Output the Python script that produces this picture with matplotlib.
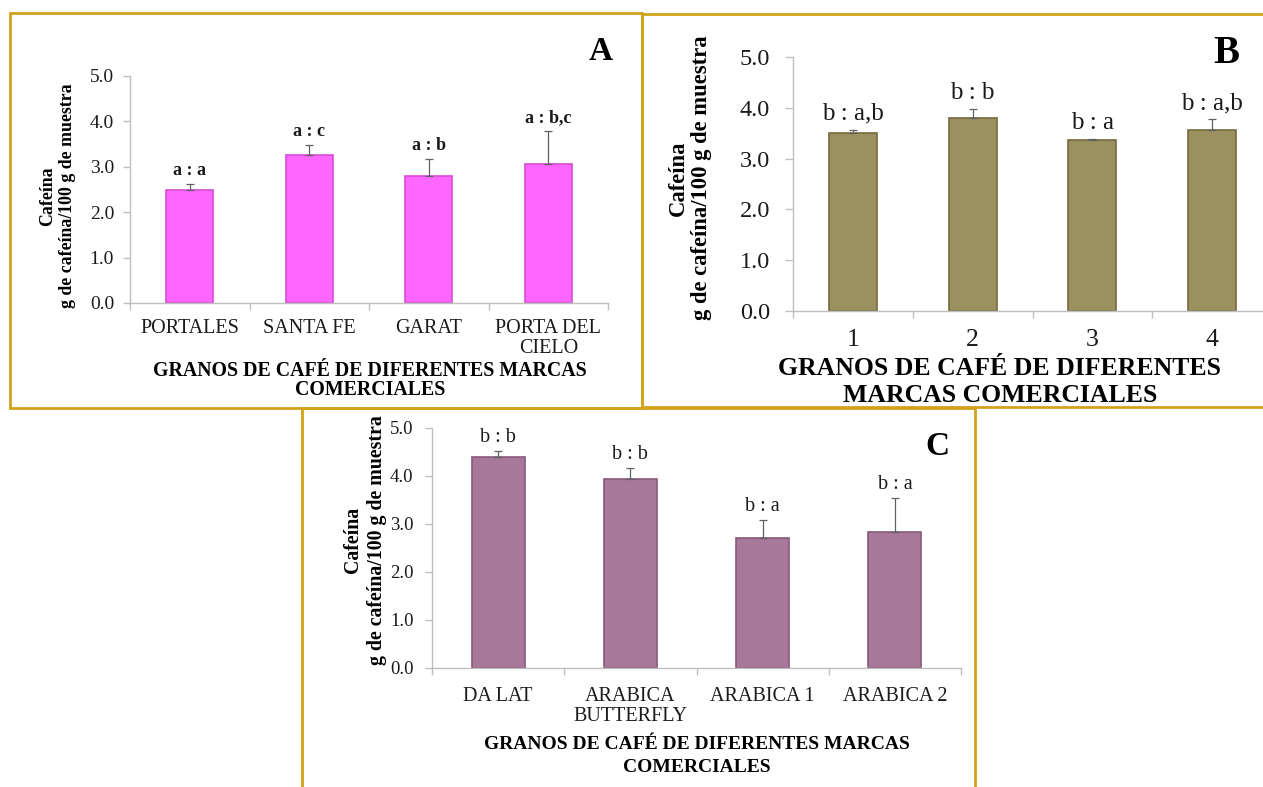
import numpy as np
import matplotlib
matplotlib.use("Agg")
import matplotlib.pyplot as plt
from matplotlib.patches import Rectangle
from matplotlib.ticker import FormatStrFormatter

plt.rcParams['font.family'] = ['Liberation Serif', 'DejaVu Serif']

# ---- data -------------------------------------------------------------
brands_a = ['PORTALES', 'SANTA FE', 'GARAT', 'PORTA DEL\nCIELO']
caffeine_a = [2.48, 3.26, 2.80, 3.07]
sd_a = [0.14, 0.22, 0.38, 0.72]
letters_a = ['a : a', 'a : c', 'a : b', 'a : b,c']

brands_b = ['1', '2', '3', '4']
caffeine_b = [3.51, 3.80, 3.36, 3.57]
sd_b = [0.06, 0.17, 0.03, 0.21]
letters_b = ['b : a,b', 'b : b', 'b : a', 'b : a,b']

brands_c = ['DA LAT', 'ARABICA\nBUTTERFLY', 'ARABICA 1', 'ARABICA 2']
caffeine_c = [4.40, 3.93, 2.70, 2.83]
sd_c = [0.13, 0.23, 0.39, 0.71]
letters_c = ['b : b', 'b : b', 'b : a', 'b : a']

y_ticks = [0, 1, 2, 3, 4, 5]
ylabel_1 = 'Cafeína'
ylabel_2 = 'g de cafeína/100 g de muestra'

# ---- layout helpers (pixel based) ------------------------------------
W, H = 1263, 787
fig = plt.figure(figsize=(W / 100, H / 100), dpi=100)
fig.patch.set_facecolor('white')


def fx(x):
    return x / W


def fy(y):
    return 1 - y / H


def axes_px(left, right, top, bottom):
    return fig.add_axes([fx(left), fy(bottom), (right - left) / W, (bottom - top) / H])


def frame(left, top, right, bottom, color='#D2A21C'):
    fig.add_artist(Rectangle((fx(left), fy(bottom)), (right - left) / W, (bottom - top) / H,
                             transform=fig.transFigure, fill=False, edgecolor=color,
                             linewidth=2.0, zorder=0))


def ctext(x, yc, s, size, **kw):
    size_px = size * 100 / 72
    fig.text(fx(x), fy(yc + 0.33 * size_px), s, fontsize=size, ha='center',
             va='baseline', **kw)


def ylabel(x1, x2, yc, size):
    fig.text(fx(x1), fy(yc), ylabel_1, rotation=90, ha='center', va='center',
             fontsize=size, fontweight='bold')
    fig.text(fx(x2), fy(yc), ylabel_2, rotation=90, ha='center', va='center',
             fontsize=size, fontweight='bold')


def panel(ax, cats, vals, errs, letters, fill, edge, width, xfs, yfs, lfs, lweight,
          loff, ypad, xpad, ytlen):
    x = np.arange(len(cats))
    ax.bar(x, vals, width=width, color=fill, edgecolor=edge, linewidth=1.2, zorder=2)
    ax.errorbar(x, vals, yerr=[np.zeros(len(vals)), errs], fmt='none', ecolor='#606060',
                elinewidth=0.9, capsize=3, capthick=0.9, zorder=3)
    for xi, v, e, t in zip(x, vals, errs, letters):
        ax.annotate(t, (xi, v + e), xytext=(0, loff), textcoords='offset points',
                    ha='center', va='center', fontsize=lfs, fontweight=lweight,
                    color='#1a1a1a', annotation_clip=False)
    ax.set_xlim(-0.5, len(cats) - 0.5)
    ax.set_ylim(0, 5)
    ax.set_yticks(y_ticks)
    ax.yaxis.set_major_formatter(FormatStrFormatter('%.1f'))
    ax.set_xticks(x)
    ax.set_xticklabels(cats, linespacing=1.1)
    ax.set_xticks(np.arange(-0.5, len(cats)), minor=True)
    ax.tick_params(axis='x', which='major', length=0, pad=xpad, labelsize=xfs,
                   labelcolor='#1a1a1a')
    ax.tick_params(axis='x', which='minor', length=5, width=1, color='#BFBFBF',
                   direction='out')
    ax.tick_params(axis='y', length=ytlen, width=1, color='#BFBFBF', pad=ypad,
                   labelsize=yfs, labelcolor='#1a1a1a')
    for s in ['top', 'right']:
        ax.spines[s].set_visible(False)
    for s in ['left', 'bottom']:
        ax.spines[s].set_color('#BFBFBF')
        ax.spines[s].set_linewidth(1.0)
    ax.patch.set_alpha(0)


# ---- frames -----------------------------------------------------------
frame(10, 13, 642, 408)
frame(642, 14, 1290, 407)
frame(302, 408, 975, 800)

# ---- panel A ----------------------------------------------------------
ax_a = axes_px(130, 608, 76, 303)
panel(ax_a, brands_a, caffeine_a, sd_a, letters_a, '#FF66FF', '#D84CD8', 0.39,
      14.5, 14, 13, 'bold', 9.5, 6.5, 11.5, 5)
ylabel(48, 68, 196, 12.8)
ctext(370, 369, 'GRANOS DE CAFÉ DE DIFERENTES MARCAS', 14.3, fontweight='bold')
ctext(370, 388, 'COMERCIALES', 14.3, fontweight='bold')
ctext(601, 49, 'A', 24, fontweight='bold')

# ---- panel B ----------------------------------------------------------
ax_b = axes_px(793, 1272, 57, 311)
panel(ax_b, brands_b, caffeine_b, sd_b, letters_b, '#9B9160', '#756B3E', 0.40,
      18.5, 17.5, 18, 'normal', 11.5, 10.5, 13, 6)
ylabel(678, 701, 178, 16.3)
ctext(1000, 367, 'GRANOS DE CAFÉ DE DIFERENTES', 18.5, fontweight='bold')
ctext(1000, 394, 'MARCAS COMERCIALES', 18.5, fontweight='bold')
ctext(1226, 50, 'B', 28, fontweight='bold')

# ---- panel C ----------------------------------------------------------
ax_c = axes_px(432, 961, 428, 668)
panel(ax_c, brands_c, caffeine_c, sd_c, letters_c, '#A8789A', '#875A7A', 0.40,
      14.5, 13.5, 14.5, 'normal', 9.6, 8.3, 13.5, 5)
ylabel(353, 377, 540, 14.3)
ctext(697, 743, 'GRANOS DE CAFÉ DE DIFERENTES MARCAS', 14, fontweight='bold')
ctext(697, 766, 'COMERCIALES', 14, fontweight='bold')
ctext(937, 444, 'C', 24, fontweight='bold')

fig.savefig('out.png', dpi=100, facecolor='white')
